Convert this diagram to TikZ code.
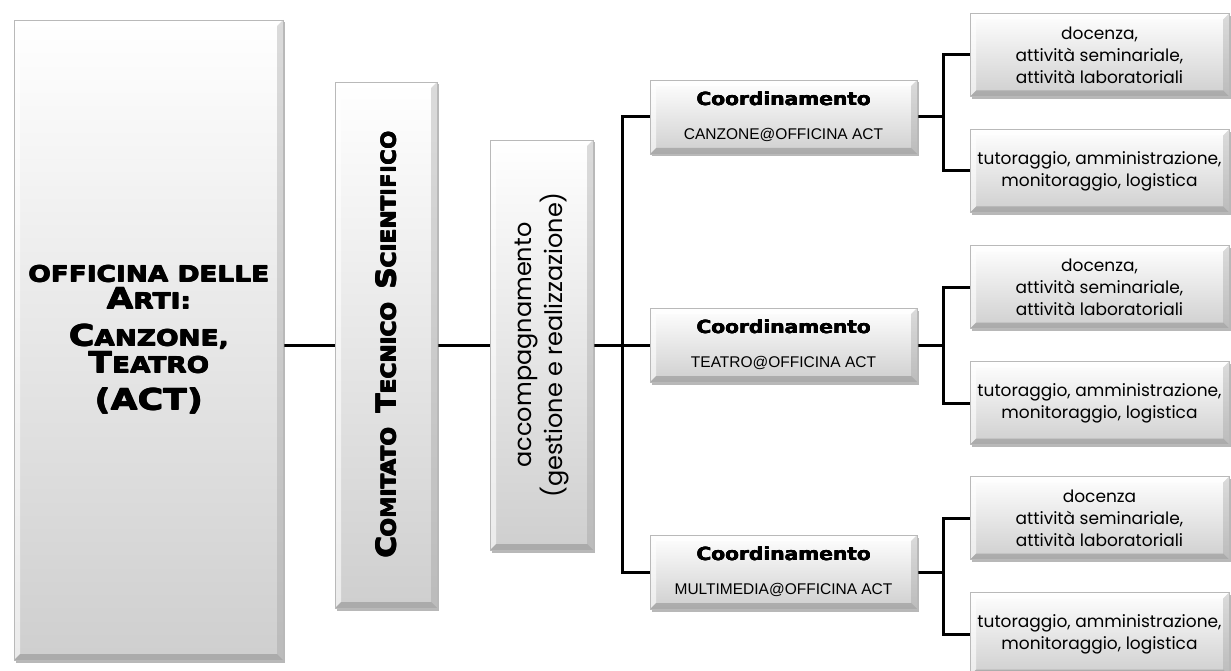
\documentclass[tikz,border=0pt]{standalone}
\usepackage{fontspec}
\usepackage{graphicx}
\usetikzlibrary{shadows,backgrounds}
\newfontfamily\widef{DejaVu Sans Bold}[FakeStretch=1.2]
\newfontfamily\ctsf{DejaVu Sans Bold}[FakeStretch=1.08]
\newfontfamily\coordf{DejaVu Sans Bold}[FakeStretch=1.12]
\newfontfamily\geof{Poppins}
\newfontfamily\arialf{Liberation Sans}
% thicken text by overprinting with small offsets
\newcommand\thk[2][0.7pt]{\leavevmode\rlap{\kern#1\relax#2}\rlap{\raisebox{#1}{#2}}\rlap{\kern#1\relax\raisebox{#1}{#2}}#2}
\newcommand\mysmallcap[1]{{\fontsize{22}{27}\selectfont\thk{#1}}}
\newcommand\mybigcap[1]{{\fontsize{29}{27}\selectfont\thk{#1}}}
\newcommand\ctssmall[1]{{\fontsize{20}{22}\selectfont\thk[0.6pt]{#1}}}
\newcommand\ctsbig[1]{{\fontsize{27}{22}\selectfont\thk[0.6pt]{#1}}}
\tikzset{
  bevel/.style={rectangle, inner sep=2pt, draw=gray!55, line width=0.5pt,
    top color=white, bottom color=gray!38,
    drop shadow={shadow xshift=2pt, shadow yshift=-2.5pt, opacity=0.5, fill=black!55},
    path picture={
      \fill[white,opacity=.8] (path picture bounding box.north west) -- (path picture bounding box.north east)
        -- ([xshift=-6pt,yshift=-6pt]path picture bounding box.north east)
        -- ([xshift=6pt,yshift=-6pt]path picture bounding box.north west) -- cycle;
      \fill[white,opacity=.6] (path picture bounding box.north west)
        -- ([xshift=6pt,yshift=-6pt]path picture bounding box.north west)
        -- ([xshift=6pt,yshift=6pt]path picture bounding box.south west)
        -- (path picture bounding box.south west) -- cycle;
      \fill[black!40,opacity=.35] (path picture bounding box.north east)
        -- ([xshift=-6pt,yshift=-6pt]path picture bounding box.north east)
        -- ([xshift=-6pt,yshift=6pt]path picture bounding box.south east)
        -- (path picture bounding box.south east) -- cycle;
      \fill[black!50,opacity=.45] (path picture bounding box.south west)
        -- ([xshift=6pt,yshift=6pt]path picture bounding box.south west)
        -- ([xshift=-6pt,yshift=6pt]path picture bounding box.south east)
        -- (path picture bounding box.south east) -- cycle;
    }},
  coordbox/.style={bevel, minimum width=267pt, minimum height=74pt, align=center,
    font=\arialf\fontsize{15.5}{22}\selectfont},
  taskbox/.style={bevel, minimum width=259pt, minimum height=83pt, align=center,
    font=\geof\fontsize{17}{22}\selectfont},
  link/.style={line width=3pt, black, line join=miter},
}
\newcommand\coordtitle{{\coordf\fontsize{18}{22}\selectfont\thk[0.45pt]{Coordinamento}}}
\begin{document}
\begin{tikzpicture}[x=1pt,y=-1pt]
\useasboundingbox (0,0) rectangle (1231,671);

% main boxes
\node[bevel, minimum width=269pt, minimum height=640pt, align=center,
      font=\widef\fontsize{22}{27}\selectfont] (act) at (148.5,340)
  {\mysmallcap{OFFICINA DELLE}\\
   \mybigcap{A}\mysmallcap{RTI:}\\[10pt]
   \mybigcap{C}\mysmallcap{ANZONE,}\\
   \mybigcap{T}\mysmallcap{EATRO}\\[10pt]
   \mybigcap{(ACT)}};

\node[bevel, minimum width=102pt, minimum height=526pt, font=\ctsf] (cts) at (386,345)
  {\rotatebox{90}{\ctsbig{C}\ctssmall{OMITATO}\hspace{14pt}\ctsbig{T}\ctssmall{ECNICO}\hspace{14pt}\ctsbig{S}\ctssmall{CIENTIFICO}}};

\node[bevel, minimum width=103pt, minimum height=410pt, font=\geof\fontsize{24}{28}\selectfont] (acc) at (541.5,345)
  {\rotatebox{90}{\begin{tabular}{@{}c@{}}accompagnamento\\(gestione e realizzazione)\end{tabular}}};

% coordination boxes
\node[coordbox] (c1) at (783.5,117) {\coordtitle\\[12pt]CANZONE@OFFICINA ACT};
\node[coordbox] (c2) at (783.5,345) {\coordtitle\\[12pt]TEATRO@OFFICINA ACT};
\node[coordbox] (c3) at (783.5,572) {\coordtitle\\[12pt]MULTIMEDIA@OFFICINA ACT};

% task boxes
\node[taskbox] (d1) at (1099.5,55) {docenza,\\attività seminariale,\\attività laboratoriali};
\node[taskbox] (t1) at (1099.5,171) {tutoraggio, amministrazione,\\monitoraggio, logistica};
\node[taskbox] (d2) at (1099.5,287) {docenza,\\attività seminariale,\\attività laboratoriali};
\node[taskbox] (t2) at (1099.5,403) {tutoraggio, amministrazione,\\monitoraggio, logistica};
\node[taskbox] (d3) at (1099.5,518) {docenza\\attività seminariale,\\attività laboratoriali};
\node[taskbox] (t3) at (1099.5,634) {tutoraggio, amministrazione,\\monitoraggio, logistica};

\coordinate (tk) at (622,345);
\coordinate (sx) at (943,345);

\begin{scope}[on background layer]
  \fill[white] (0,0) rectangle (1231,671);
  \draw[link] (cts.west) -- (cts.west -| act.east);
  \draw[link] (acc.west) -- (acc.west -| cts.east);
  \draw[link] (acc.east) -- (c2.west);
  \draw[link] (c1.west) -- (c1.west -| tk) -- (c3.west -| tk) -- (c3.west);
  \draw[link] (c1.east) -- (c1.east -| sx);
  \draw[link] (d1.west) -- (d1.west -| sx) -- (t1.west -| sx) -- (t1.west);
  \draw[link] (c2.east) -- (c2.east -| sx);
  \draw[link] (d2.west) -- (d2.west -| sx) -- (t2.west -| sx) -- (t2.west);
  \draw[link] (c3.east) -- (c3.east -| sx);
  \draw[link] (d3.west) -- (d3.west -| sx) -- (t3.west -| sx) -- (t3.west);
\end{scope}
\end{tikzpicture}
\end{document}
